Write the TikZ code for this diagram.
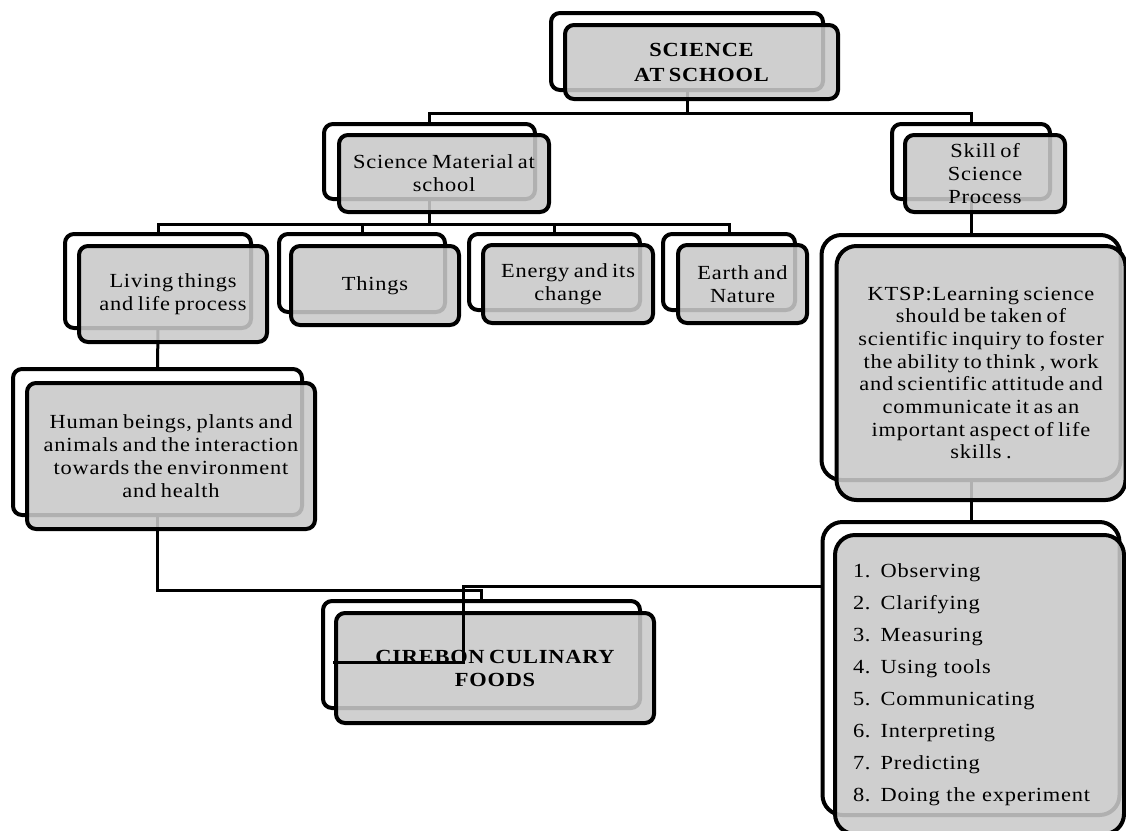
\documentclass[tikz,border=0pt]{standalone}
\usepackage{fontspec}
\setmainfont{Liberation Serif}[FakeStretch=1.12, LetterSpace=4, WordSpace=0.7]
\begin{document}
\begin{tikzpicture}[x=1pt,y=-1pt,
  backbox/.style={draw=black, line width=4pt, rounded corners=9pt, fill=white, inner sep=0pt},
  frontbox/.style={draw=black, line width=4pt, rounded corners=9pt, fill=black!21, fill opacity=0.88, text opacity=1, inner sep=0pt, align=center, font=\fontsize{20}{23}\selectfont},
  bigr/.style={rounded corners=20pt},
  conn/.style={line width=3pt, line join=miter}]
\useasboundingbox (0,0) rectangle (1126,830);
% back boxes
\node[backbox, minimum width=272pt, minimum height=77pt] (btop) at (687,51.5) {};
\node[backbox, minimum width=211pt, minimum height=75pt] (bmat) at (429.5,161.5) {};
\node[backbox, minimum width=158pt, minimum height=75pt] (bskill) at (971,161.5) {};
\node[backbox, minimum width=186pt, minimum height=94pt] (bliv) at (158,281) {};
\node[backbox, minimum width=166pt, minimum height=78pt] (bthi) at (362,273) {};
\node[backbox, minimum width=171pt, minimum height=76pt] (bene) at (554.5,272) {};
\node[backbox, minimum width=132pt, minimum height=76pt] (bear) at (729,272) {};
\node[backbox, minimum width=289pt, minimum height=146pt] (bhum) at (157.5,442) {};
\node[backbox, bigr, minimum width=299pt, minimum height=245pt] (bktsp) at (971,357.5) {};
\node[backbox, bigr, minimum width=297pt, minimum height=293pt] (blist) at (971,668.5) {};
\node[backbox, minimum width=317pt, minimum height=107pt] (bcul) at (481.5,654.5) {};
% connectors
\coordinate (j1) at (687,113);
\coordinate (j2) at (429.5,224);
\coordinate (j3) at (157.5,590);
\draw[conn] (btop.south) -- (j1) -| (bmat.north);
\draw[conn] (j1) -| (bskill.north);
\draw[conn] (bmat.south) -- (j2) -| (bliv.north);
\draw[conn] (j2) -| (bthi.north);
\draw[conn] (j2) -| (bene.north);
\draw[conn] (j2) -| (bear.north);
\draw[conn] (bskill.south) -- (bktsp.north);
\draw[conn] (bktsp.south) -- (blist.north);
\draw[conn] (bliv.south) -- (bhum.north);
\draw[conn] (bhum.south) -- (j3) -| (bcul.north);
% front boxes
\node[frontbox, font=\fontsize{20}{25}\selectfont\bfseries, minimum width=273pt, minimum height=74pt] (ftop) at (701.5,62) {SCIENCE\\AT SCHOOL};
\node[frontbox, minimum width=210pt, minimum height=77pt] (fmat) at (444,173.5) {Science Material at\\school};
\node[frontbox, minimum width=160pt, minimum height=77pt] (fskill) at (985,173.5) {Skill of\\Science\\Process};
\node[frontbox, minimum width=188pt, minimum height=96pt] (fliv) at (173,294) {Living things\\and life process};
\node[frontbox, minimum width=168pt, minimum height=79pt] (fthi) at (375,285.5) {Things};
\node[frontbox, minimum width=170pt, minimum height=78pt] (fene) at (568,284) {Energy and its\\change};
\node[frontbox, minimum width=129pt, minimum height=78pt] (fear) at (742.5,284) {Earth and\\Nature};
\node[frontbox, minimum width=288pt, minimum height=146pt] (fhum) at (171,456) {Human beings, plants and\\animals and the interaction\\towards the environment\\and health};
\node[frontbox, bigr, font=\fontsize{20}{22.7}\selectfont, minimum width=289pt, minimum height=254pt] (fktsp) at (981,373) {KTSP:Learning science\\should be taken of\\scientific inquiry to foster\\the ability to think , work\\and scientific attitude and\\communicate it as an\\important aspect of life\\skills .};
\node[frontbox, bigr, align=left, text width=253pt, font=\fontsize{20}{32}\selectfont, minimum width=289pt, minimum height=299pt] (flist) at (979.5,684.5) {1. Observing\\2. Clarifying\\3. Measuring\\4. Using tools\\5. Communicating\\6. Interpreting\\7. Predicting\\8. Doing the experiment};
\node[frontbox, font=\fontsize{20}{23}\selectfont\bfseries, minimum width=318pt, minimum height=110pt] (fcul) at (495,668) {CIREBON CULINARY\\FOODS};
% connector from the list drawn over the culinary box
\coordinate (k1) at (463,586);
\coordinate (k2) at (463,662);
\coordinate (k3) at (333,662);
\draw[conn] (blist.west |- k1) -- (k1) -- (k2) -- (k3);
\end{tikzpicture}
\end{document}
